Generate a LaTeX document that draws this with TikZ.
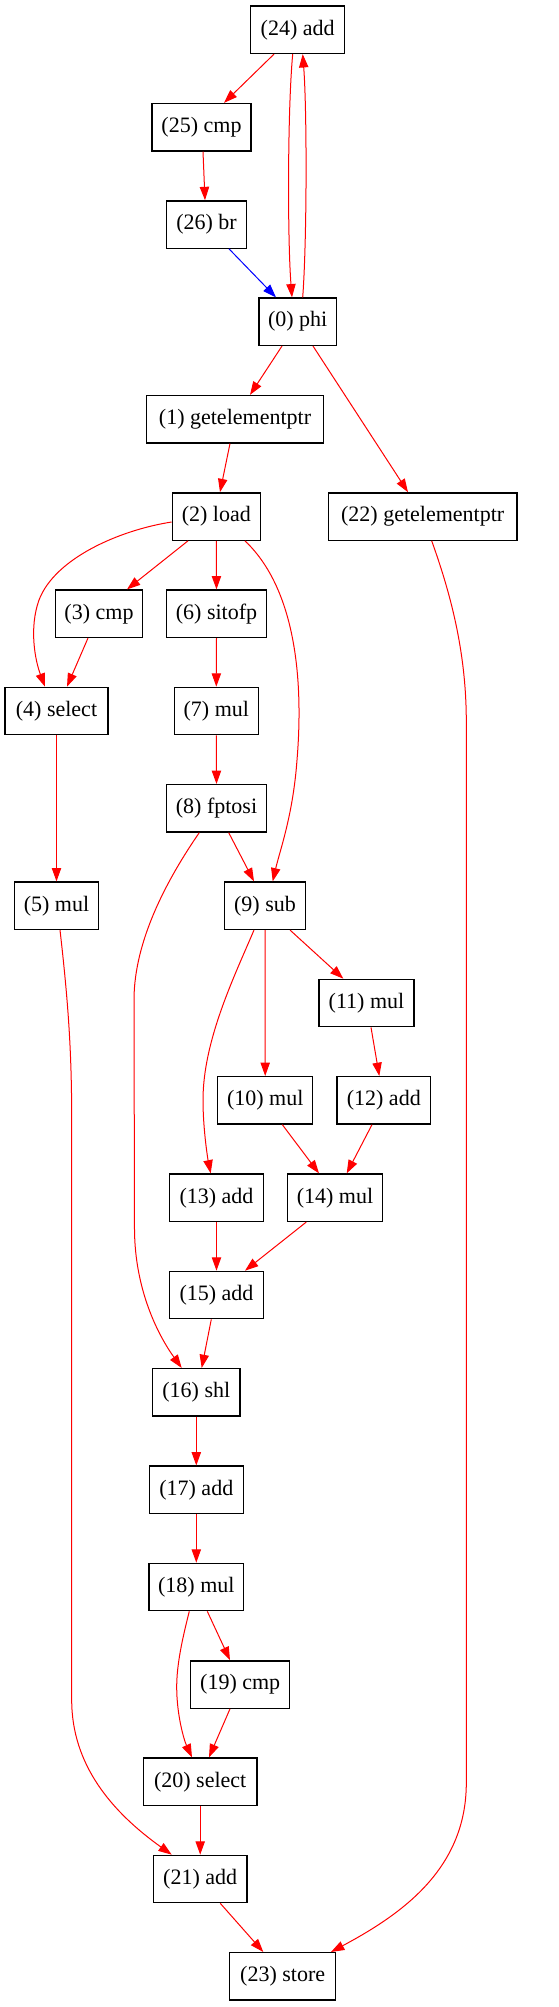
\documentclass[tikz,border=0pt]{standalone}
\usepackage{fontspec}
\setmainfont{Liberation Serif}
\usetikzlibrary{arrows.meta,calc}
\begin{document}
\begin{tikzpicture}[x=0.75pt,y=-0.75pt,
  box/.style={draw=black, line width=1pt, inner sep=0pt, minimum height=35.5pt,
    minimum width=#1*0.75pt-1pt, font=\fontsize{16.5}{19}\selectfont},
  edge/.style={draw=red, line width=0.75pt, -{Triangle[length=10pt,width=7pt]}},
  cedge/.style={draw=blue, line width=0.75pt, -{Triangle[length=10pt,width=7pt]}}]
\useasboundingbox (0,0) rectangle (558,2007);
% nodes
\node[box=95.3]  (n24) at (297.7,29.8)   {(24) add};
\node[box=100.4] (n25) at (201.5,127.2)  {(25) cmp};
\node[box=81.6]  (n26) at (206.5,224.5)  {(26) br};
\node[box=78.7]  (n0)  at (297.7,321.7)  {(0) phi};
\node[box=178.6] (n1)  at (235,419.2)    {(1) getelementptr};
\node[box=89.3]  (n2)  at (216.3,516.5)  {(2) load};
\node[box=190]   (n22) at (422.7,516.5)  {(22) getelementptr};
\node[box=88.6]  (n3)  at (99,613.7)     {(3) cmp};
\node[box=101.6] (n6)  at (216.5,613.7)  {(6) sitofp};
\node[box=104.4] (n4)  at (56.5,711)     {(4) select};
\node[box=85.3]  (n7)  at (216.3,711)    {(7) mul};
\node[box=101.6] (n8)  at (216.5,808.3)  {(8) fptosi};
\node[box=85.6]  (n5)  at (56.5,905.7)   {(5) mul};
\node[box=82.6]  (n9)  at (265,905.7)    {(9) sub};
\node[box=96.4]  (n11) at (366.5,1003)   {(11) mul};
\node[box=96.3]  (n10) at (265.2,1100.3) {(10) mul};
\node[box=95]    (n12) at (383.8,1100.3) {(12) add};
\node[box=95]    (n13) at (216.5,1197.7) {(13) add};
\node[box=96]    (n14) at (335,1197.7)   {(14) mul};
\node[box=95]    (n15) at (216.5,1295)   {(15) add};
\node[box=88.7]  (n16) at (196.3,1392.3) {(16) shl};
\node[box=95.3]  (n17) at (196.3,1489.8) {(17) add};
\node[box=96]    (n18) at (196.3,1587)   {(18) mul};
\node[box=100.3] (n19) at (240.2,1684.5) {(19) cmp};
\node[box=115]   (n20) at (200.2,1781.7) {(20) select};
\node[box=95]    (n21) at (200.2,1879)   {(21) add};
\node[box=107.3] (n23) at (282.7,1976.3) {(23) store};
% edges
\draw[edge] ($(n24.south)+(-23.7,0)$) -- ($(n25.north)+(22.5,0)$);
\draw[edge] ($(n24.south)+(-5,0)$) .. controls (287.5,110) and (287.5,240) .. ($(n0.north)+(-5.7,0)$);
\draw[edge] ($(n0.north)+(5,0)$) .. controls (307,240) and (307,110) .. ($(n24.south)+(5,0)$);
\draw[edge] ($(n25.south)+(1.5,0)$) -- ($(n26.north)+(-1.5,0)$);
\draw[cedge] ($(n26.south)+(22.5,0)$) -- ($(n0.north)+(-21.7,0)$);
\draw[edge] ($(n0.south)+(-15.7,0)$) -- ($(n1.north)+(15,0)$);
\draw[edge] ($(n0.south)+(15.3,0)$) -- ($(n22.north)+(-14.7,0)$);
\draw[edge] ($(n1.south)+(-5,0)$) -- ($(n2.north)+(3.7,0)$);
\draw[edge] ($(n2.south)+(-28.3,0)$) -- ($(n3.north)+(28,0)$);
\draw[edge] (n2.south) -- (n6.north);
\draw[edge] ($(n2.west)+(0,5.5)$) .. controls (120,530) and (55,558) .. (39,600) .. controls (29,628) and (35,660) .. ($(n4.north)+(-11.5,0)$);
\draw[edge] ($(n2.south)+(28.7,0)$) .. controls (302,595) and (302,700) .. (297,760) .. controls (293,815) and (280,850) .. ($(n9.north)+(7.7,0)$);
\draw[edge] ($(n3.south)+(-11,0)$) -- ($(n4.north)+(10.5,0)$);
\draw[edge] (n6.south) -- (n7.north);
\draw[edge] (n7.south) -- (n8.north);
\draw[edge] (n4.south) -- (n5.north);
\draw[edge] ($(n8.south)+(12.2,0)$) -- ($(n9.north)+(-11,0)$);
\draw[edge] ($(n8.south)+(-17.2,0)$) .. controls (168,878) and (134,940) .. (134,1000) -- (134.5,1230) .. controls (135,1290) and (158,1335) .. ($(n16.north)+(-14.6,0)$);
\draw[edge] ($(n5.south)+(3.5,0)$) .. controls (68,1000) and (71.7,1050) .. (71.7,1120) -- (71.7,1700) .. controls (71.7,1765) and (112,1812) .. ($(n21.north)+(-28.5,0)$);
\draw[edge] ($(n22.south)+(9,0)$) .. controls (450,592) and (466,650) .. (466.3,720) -- (466.3,1783) .. controls (466.3,1870) and (400,1915) .. ($(n23.north)+(48.3,0)$);
\draw[edge] ($(n9.south)+(25,0)$) -- ($(n11.north)+(-23.2,0)$);
\draw[edge] (n9.south) -- (n10.north);
\draw[edge] ($(n9.south)+(-11,0)$) .. controls (235,975) and (203,1040) .. (203,1100) .. controls (203,1130) and (208,1160) .. ($(n13.north)+(-5.8,0)$);
\draw[edge] ($(n11.south)+(4.5,0)$) -- ($(n12.north)+(-4.5,0)$);
\draw[edge] ($(n10.south)+(17.1,0)$) -- ($(n14.north)+(-16,0)$);
\draw[edge] ($(n12.south)+(-11.8,0)$) -- ($(n14.north)+(11.7,0)$);
\draw[edge] (n13.south) -- (n15.north);
\draw[edge] ($(n14.south)+(-28.7,0)$) -- ($(n15.north)+(28.5,0)$);
\draw[edge] ($(n15.south)+(-5.2,0)$) -- ($(n16.north)+(5.4,0)$);
\draw[edge] (n16.south) -- (n17.north);
\draw[edge] (n17.south) -- (n18.north);
\draw[edge] ($(n18.south)+(11,0)$) -- ($(n19.north)+(-10.2,0)$);
\draw[edge] ($(n18.south)+(-7,0)$) .. controls (182,1640) and (176.7,1665) .. (176.7,1687) .. controls (176.7,1715) and (184,1740) .. ($(n20.north)+(-8.2,0)$);
\draw[edge] ($(n19.south)+(-10.2,0)$) -- ($(n20.north)+(8.8,0)$);
\draw[edge] (n20.south) -- (n21.north);
\draw[edge] ($(n21.south)+(20.1,0)$) -- ($(n23.north)+(-19.4,0)$);
\end{tikzpicture}
\end{document}
